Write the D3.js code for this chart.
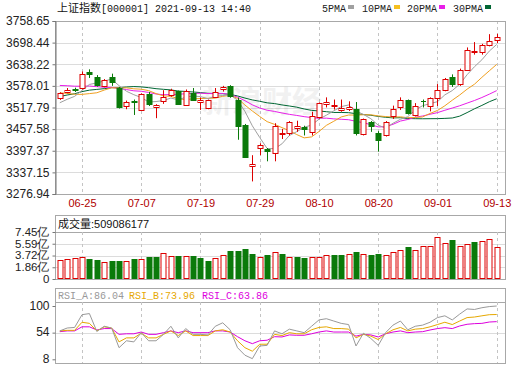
<!DOCTYPE html>
<html>
<head>
<meta charset="utf-8">
<script src="https://cdn.jsdelivr.net/npm/d3@7"></script>
<style>
body { margin: 0; background: #fff; }
svg { display: block; }
</style>
</head>
<body>
<svg width="520" height="365"></svg>
<script>
// trading days shown on the chart
var days = ["06-22","06-23","06-24","06-25","06-28","06-29","06-30",
    "07-01","07-02","07-05","07-06","07-07","07-08","07-09","07-12","07-13","07-14","07-15","07-16",
    "07-19","07-20","07-21","07-22","07-23","07-26","07-27","07-28","07-29","07-30",
    "08-02","08-03","08-04","08-05","08-06","08-09","08-10","08-11","08-12","08-13",
    "08-16","08-17","08-18","08-19","08-20","08-23","08-24","08-25","08-26","08-27","08-30","08-31",
    "09-01","09-02","09-03","09-06","09-07","09-08","09-09","09-10","09-13"]
var dateTicks = ["06-25","07-07","07-19","07-29","08-10","08-20","09-01","09-13"]

var open  = [3544,3561,3569,3572,3616,3603,3577,3603,3572,3521,3536,3511,3556,3518,3536,3553,3563,3525,3558,3533,
             3516,3548,3568,3577,3540,3468,3356,3405,3403,3390,3444,3446,3462,3464,3450,3492,3528,3522,3512,3515,
             3514,3444,3478,3447,3441,3493,3520,3538,3497,3537,3522,3545,3566,3602,3583,3622,3672,3671,3693,3705]
var high  = [3560,3572,3573,3618,3624,3608,3597,3612,3575,3537,3540,3557,3561,3527,3566,3570,3565,3568,3572,3546,
             3540,3572,3578,3580,3545,3472,3385,3418,3405,3474,3458,3480,3481,3467,3506,3532,3546,3540,3540,3535,
             3533,3487,3480,3452,3480,3523,3546,3540,3530,3540,3546,3583,3600,3610,3626,3685,3700,3695,3722,3723]
var low   = [3539,3557,3561,3568,3600,3576,3574,3578,3515,3513,3497,3508,3522,3488,3528,3548,3525,3522,3536,3511,
             3513,3545,3562,3545,3428,3378,3312,3385,3368,3368,3430,3440,3450,3440,3440,3487,3518,3512,3506,3508,
             3440,3440,3450,3395,3437,3486,3511,3498,3493,3518,3507,3522,3563,3575,3578,3620,3665,3665,3688,3697]
var close = [3558,3566,3567,3612,3610,3580,3593,3590,3518,3534,3532,3554,3527,3525,3548,3567,3528,3565,3540,3539,
             3538,3562,3575,3550,3467,3381,3361,3412,3397,3465,3448,3477,3466,3458,3495,3530,3533,3526,3517,3518,
             3447,3485,3466,3427,3477,3515,3540,3502,3522,3535,3544,3567,3597,3582,3622,3677,3675,3693,3703,3715]

var ma5  = [3531.0,3540.6,3548.8,3565.4,3582.0,3586.4,3591.8,3596.6,3578.6,3563.0,3553.4,3545.6,3533.0,3534.4,3537.2,
            3544.2,3539.0,3546.6,3549.6,3548.2,3542.4,3549.2,3551.2,3553.2,3538.4,3507.0,3466.8,3434.2,3403.6,3403.2,
            3416.6,3439.8,3450.6,3462.8,3468.8,3485.2,3496.4,3508.4,3520.2,3524.8,3508.2,3498.6,3486.6,3468.6,3460.4,
            3474.0,3485.0,3492.2,3511.2,3522.8,3528.6,3534.0,3553.0,3565.0,3582.4,3609.0,3631.4,3650.6,3674.8,3693.4]
var ma10 = [3558.6,3557.2,3554.6,3554.3,3556.5,3558.8,3566.3,3572.7,3572.0,3572.5,3569.9,3568.7,3564.8,3556.5,3550.1,
            3548.8,3542.3,3539.8,3542.0,3542.7,3543.3,3544.1,3548.9,3551.4,3543.3,3524.7,3508.0,3492.7,3478.4,3470.8,
            3461.8,3453.3,3442.4,3433.2,3436.0,3450.9,3468.1,3479.5,3491.5,3496.8,3496.7,3497.5,3497.5,3494.4,3492.6,
            3491.1,3491.8,3489.4,3489.9,3491.6,3501.3,3509.5,3522.6,3538.1,3552.6,3568.8,3582.7,3601.8,3619.9,3637.9]
var ma20 = [3579.2,3578.4,3577.1,3577.0,3577.6,3575.8,3574.2,3573.9,3570.6,3567.7,3564.3,3563.0,3559.7,3555.4,3553.3,
            3553.8,3554.3,3556.3,3557.0,3557.6,3556.6,3556.4,3556.9,3554.0,3546.7,3536.8,3525.2,3516.3,3510.2,3506.8,
            3502.6,3498.7,3495.7,3492.3,3489.7,3487.8,3488.1,3486.1,3485.0,3483.8,3479.3,3475.4,3470.0,3463.8,3464.3,
            3471.0,3480.0,3484.5,3490.7,3494.2,3499.0,3503.5,3510.1,3516.3,3522.6,3530.0,3537.3,3545.6,3554.9,3564.8]
var ma30 = [3548.4,3552.6,3556.1,3562.0,3566.1,3568.2,3570.3,3573.0,3573.3,3574.9,3576.1,3575.2,3573.0,3570.2,3568.4,
            3566.8,3563.6,3562.5,3561.0,3559.3,3557.3,3556.7,3556.1,3554.1,3550.0,3544.1,3538.9,3535.1,3530.8,3528.7,
            3525.0,3522.0,3518.7,3513.7,3509.8,3508.1,3506.1,3504.0,3504.0,3503.4,3500.6,3498.3,3496.3,3493.0,3490.6,
            3488.9,3489.3,3487.2,3486.6,3486.4,3486.6,3486.8,3487.5,3488.6,3493.7,3503.6,3514.2,3523.6,3533.8,3542.1]

// volume in 亿
var volume = [3.0,3.2,3.3,3.5,3.2,3.0,2.7,2.85,2.85,2.85,3.2,3.2,3.5,3.5,4.1,3.6,3.6,3.6,3.6,3.3,
              2.85,3.3,3.8,4.4,4.4,4.75,3.9,3.5,3.8,4.3,3.9,3.5,3.5,3.3,3.5,3.5,3.8,3.8,3.8,3.9,
              4.3,3.9,3.8,3.9,3.8,4.3,4.6,5.05,4.6,5.2,5.2,6.65,5.7,6.2,5.2,5.55,5.85,6.0,6.3,5.09]

var rsiA = [50.7,54.8,55.6,73.7,75.3,49.9,57.3,54.8,26.9,36.7,35.1,48.2,36.7,36.7,45.8,57.3,40.8,54.0,45.8,45.8,
            45.0,57.3,62.2,52.3,26.9,16.2,11.3,29.3,30.2,50.7,46.6,53.2,50.7,48.2,57.3,66.3,68.0,64.7,61.4,59.7,
            29.3,47.4,40.0,30.2,48.2,58.9,64.7,52.3,57.3,58.9,63.0,69.6,72.1,66.3,74.5,81.9,81.1,83.6,85.2,86.04]
var rsiB = [50.7,51.5,51.5,63.0,61.4,50.7,56.5,54.8,35.1,40.8,40.8,47.4,40.8,40.8,45.8,50.7,44.1,50.7,44.1,44.1,
            44.1,50.7,52.3,49.1,36.7,26.9,21.9,31.8,31.8,45.8,44.1,48.2,46.6,46.6,52.3,55.6,56.5,54.0,54.0,53.2,
            40.8,45.8,43.3,38.4,46.6,52.3,55.6,50.7,53.2,54.0,56.5,59.7,63.0,59.7,64.7,69.6,70.4,72.1,73.7,73.96]
var rsiC = [49.6,50.7,50.7,56.5,56.5,52.0,54.0,54.0,45.8,46.6,46.6,49.1,45.8,45.8,48.2,50.7,48.2,50.7,48.2,48.2,
            48.2,50.7,50.7,49.1,42.5,36.7,32.6,36.7,37.5,42.5,42.1,45.0,44.5,44.5,46.6,49.1,50.7,49.1,49.1,49.1,
            43.3,45.8,45.0,42.1,46.6,49.1,50.7,48.2,49.1,49.6,52.0,54.0,55.3,54.0,57.7,60.1,61.0,61.4,63.3,63.86]

var priceTicks = [3276.94,3337.15,3397.37,3457.58,3517.79,3578.01,3638.22,3698.44,3758.65]
var volTicks = [0,1.86,3.72,5.59,7.45]
var rsiRange = [10.4,86.04]
var rsiTickLabels = ["8","54","100"]

var RED = "#dd0000", GREEN = "#0a7a0a"
var C5 = "#a0a0a0", C10 = "#f0a020", C20 = "#e81ee8", C30 = "#006633"
var AXIS_FONT = "Arial, 'Liberation Sans', sans-serif"
var MONO = "'Liberation Mono', monospace"
var CJK = "'Noto Sans CJK SC', sans-serif"

var svg = d3.select("svg")
var left = 55, right = 505

var x = d3.scalePoint().domain(days).range([59.8, 496.7])
function px(i) { return Math.round(x(days[i])) + 0.5 }

// panel helper: frame, dashed verticals at the date ticks
function panel(top, bottom, plotTop) {
    var g = svg.append("g")
    dateTicks.forEach(function(d) {
        g.append("line")
            .attr("x1", Math.round(x(d)) + 0.5).attr("x2", Math.round(x(d)) + 0.5)
            .attr("y1", plotTop).attr("y2", bottom)
            .attr("stroke", "#c4c4c4").attr("stroke-dasharray", "3,3")
    })
    g.append("rect")
        .attr("x", left + 0.5).attr("y", top + 0.5)
        .attr("width", right - left).attr("height", bottom - top)
        .attr("fill", "none").attr("stroke", "#a8a8a8")
    return g
}

// ---------- title and legend ----------
var title = svg.append("text").attr("x", 57).attr("y", 12).attr("fill", "#111")
title.append("tspan").attr("font-family", CJK).attr("font-size", "11px").text("上证指数")
title.append("tspan").attr("font-family", MONO).attr("font-size", "10px").text("[000001] 2021-09-13 14:40")

var legend = [["5PMA", C5, 322], ["10PMA", "#f5c020", 362], ["20PMA", C20, 407], ["30PMA", C30, 453]]
legend.forEach(function(l) {
    var t = svg.append("text").attr("x", l[2]).attr("y", 12)
        .attr("font-family", MONO).attr("font-size", "10px").attr("fill", "#222").text(l[0])
    var w = t.node().getComputedTextLength()
    svg.append("rect").attr("x", l[2] + w + 2).attr("y", 5).attr("width", 6).attr("height", 4).attr("fill", l[1])
})

// ---------- main price panel ----------
var y = d3.scaleLinear().domain([3276.94, 3758.65]).range([194, 21])
var main = panel(21, 194, 21)
priceTicks.slice(1, -1).forEach(function(p) {
    main.insert("line", ":first-child")
        .attr("x1", left).attr("x2", right)
        .attr("y1", Math.round(y(p)) + 0.5).attr("y2", Math.round(y(p)) + 0.5)
        .attr("stroke", "#dcdcdc")
})

// watermark
svg.append("text").attr("x", 262).attr("y", 112).attr("text-anchor", "middle")
    .attr("font-family", CJK).attr("font-size", "30px").attr("font-weight", "bold")
    .attr("fill", "#000").attr("opacity", 0.05).text("新浪财经")

var yAxis = svg.append("g").attr("transform", "translate(" + (left + 0.5) + ",0)")
    .call(d3.axisLeft(y).tickValues(priceTicks).tickSize(3).tickFormat(d3.format(".2f")))
yAxis.selectAll("path,line").attr("stroke", "#777")
yAxis.selectAll("text").attr("font-family", AXIS_FONT).attr("font-size", "12px").attr("fill", "#222")

var xAxis = svg.append("g").attr("transform", "translate(0,194)")
    .call(d3.axisBottom(x).tickValues(dateTicks).tickSize(0).tickPadding(5))
xAxis.select(".domain").remove()
xAxis.selectAll("text").attr("font-family", AXIS_FONT).attr("font-size", "11px").attr("fill", "#b00000")

// moving averages
var maLine = function(arr) {
    return d3.line().x(function(d, i) { return x(days[i]) }).y(function(d) { return y(d) })(arr)
}
;[[ma30, C30], [ma20, C20], [ma10, C10], [ma5, C5]].forEach(function(m) {
    svg.append("path").attr("d", maLine(m[0])).attr("fill", "none")
        .attr("stroke", m[1]).attr("stroke-width", 1)
})

// candles
var bw = 5
days.forEach(function(d, i) {
    var up = close[i] >= open[i]
    var col = up ? RED : GREEN
    var cx = px(i)
    svg.append("line").attr("x1", cx).attr("x2", cx)
        .attr("y1", y(high[i])).attr("y2", y(low[i])).attr("stroke", col)
    var top = Math.round(y(Math.max(open[i], close[i])))
    var bot = Math.round(y(Math.min(open[i], close[i])))
    if (bot - top < 1) {
        svg.append("line").attr("x1", cx - 2.5).attr("x2", cx + 2.5)
            .attr("y1", top + 0.5).attr("y2", top + 0.5).attr("stroke", col)
    } else {
        svg.append("rect").attr("x", cx - 2.5).attr("y", top + 0.5)
            .attr("width", bw).attr("height", bot - top)
            .attr("fill", up ? "#fff" : col).attr("stroke", col)
    }
})

// ---------- volume panel ----------
var yv = d3.scaleLinear().domain([0, 7.45]).range([279, 232])
var vol = panel(215, 279, 232)
volTicks.slice(1).forEach(function(v) {
    vol.insert("line", ":first-child")
        .attr("x1", left).attr("x2", right)
        .attr("y1", Math.round(yv(v)) + 0.5).attr("y2", Math.round(yv(v)) + 0.5)
        .attr("stroke", v === 7.45 ? "#a8a8a8" : "#dcdcdc")
})
var vh = svg.append("text").attr("x", 58).attr("y", 228).attr("fill", "#111")
vh.append("tspan").attr("font-family", CJK).attr("font-size", "11px").text("成交量")
vh.append("tspan").attr("font-family", AXIS_FONT).attr("font-size", "11px").text(":509086177")

volume.forEach(function(v, i) {
    var up = i === 0 ? true : close[i] >= close[i - 1]
    var col = up ? RED : GREEN
    var top = Math.round(yv(v))
    svg.append("rect").attr("x", px(i) - 2.5).attr("y", top + 0.5)
        .attr("width", bw).attr("height", 279 - top - 1)
        .attr("fill", up ? "#fff" : col).attr("stroke", col)
})

var vAxis = svg.append("g").attr("transform", "translate(" + (left + 0.5) + ",0)")
    .call(d3.axisLeft(yv).tickValues(volTicks).tickSize(3)
        .tickFormat(function(d) { return d === 0 ? "0" : d.toFixed(2) + "亿" }))
vAxis.select(".domain").remove()
vAxis.selectAll("line").attr("stroke", "#777")
vAxis.selectAll("text").attr("font-family", AXIS_FONT).attr("font-size", "11.5px").attr("fill", "#222")
    .attr("dy", "0.3em")

// ---------- RSI panel ----------
var yr = d3.scaleLinear().domain(rsiRange).range([359.3, 306])
var rsiPanel = panel(288, 363, 302)
rsiPanel.insert("line", ":first-child")
    .attr("x1", left).attr("x2", right).attr("y1", 302.5).attr("y2", 302.5).attr("stroke", "#a8a8a8")
var rsiMid = (rsiRange[0] + rsiRange[1]) / 2
rsiPanel.insert("line", ":first-child")
    .attr("x1", left).attr("x2", right)
    .attr("y1", Math.round(yr(rsiMid)) + 0.5).attr("y2", Math.round(yr(rsiMid)) + 0.5)
    .attr("stroke", "#dcdcdc")

var rh = [["RSI_A:86.04", "#999999", 58], ["RSI_B:73.96", "#e6a800", 129], ["RSI_C:63.86", "#dd00dd", 202]]
rh.forEach(function(r) {
    svg.append("text").attr("x", r[2]).attr("y", 299).attr("font-family", MONO)
        .attr("font-size", "10px").attr("fill", r[1]).text(r[0])
})

var rAxis = svg.append("g").attr("transform", "translate(" + (left + 0.5) + ",0)")
    .call(d3.axisLeft(yr).tickValues([rsiRange[0], rsiMid, rsiRange[1]]).tickSize(3)
        .tickFormat(function(d, i) { return rsiTickLabels[i] }))
rAxis.select(".domain").remove()
rAxis.selectAll("line").attr("stroke", "#777")
rAxis.selectAll("text").attr("font-family", AXIS_FONT).attr("font-size", "12px").attr("fill", "#222")
    .attr("dy", "0.25em")

var rsiLine = d3.line().x(function(d, i) { return x(days[i]) }).y(function(d) { return yr(d) })
;[[rsiC, "#dd00dd"], [rsiB, "#e6a800"], [rsiA, "#999999"]].forEach(function(r) {
    svg.append("path").attr("d", rsiLine(r[0])).attr("fill", "none")
        .attr("stroke", r[1]).attr("stroke-width", 1)
})
</script>
</body>
</html>
